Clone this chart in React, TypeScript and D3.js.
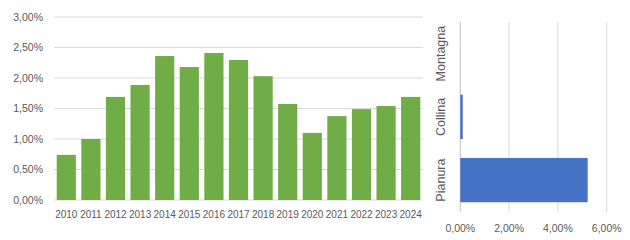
import React from "react";
import * as d3 from "d3";

const years = ["2010","2011","2012","2013","2014","2015","2016","2017","2018","2019","2020","2021","2022","2023","2024"];
const yearValues = [0.74, 1.0, 1.69, 1.885, 2.36, 2.18, 2.41, 2.295, 2.03, 1.575, 1.1, 1.375, 1.49, 1.54, 1.69];
const leftTicks = [0, 0.5, 1, 1.5, 2, 2.5, 3];

const zones = ["Montagna", "Collina", "Pianura"];
const zoneValues = [0, 0.1, 5.22];
const rightTicks = [0, 2, 4, 6];

const fmt = (v: number) => v.toFixed(2).replace(".", ",") + "%";

const FONT = "'Liberation Sans', Arial, sans-serif";
const TEXT = "#595959";
const GRID = "#d9d9d9";

export default function App() {
  const x = d3.scaleBand<string>().domain(years).range([54, 423]).paddingInner(0.22).paddingOuter(0.11);
  const y = d3.scaleLinear().domain([0, 3]).range([200, 17]);

  const rx = d3.scaleLinear().domain([0, 6]).range([460.3, 606.7]);
  const ry = d3.scaleBand<string>().domain(zones).range([22, 211.7]).paddingInner(0.3).paddingOuter(0.15);

  return (
    <svg width={630} height={240} style={{ position: "absolute", left: 0, top: 0, background: "#fff" }} fontFamily={FONT}>
      {/* left chart */}
      {leftTicks.map((t) => (
        <g key={"lt" + t}>
          <line x1={54} x2={423} y1={y(t)} y2={y(t)} stroke={GRID} strokeWidth={1} />
          <text x={43} y={y(t)} dy="0.35em" textAnchor="end" fontSize={10.5} fill={TEXT}>{fmt(t)}</text>
        </g>
      ))}
      {years.map((yr, i) => (
        <rect key={yr} x={x(yr)} y={y(yearValues[i])} width={x.bandwidth()} height={y(0) - y(yearValues[i])} fill="#70AD47" />
      ))}
      {years.map((yr) => (
        <text key={"yl" + yr} x={(x(yr) as number) + x.bandwidth() / 2} y={218} textAnchor="middle" fontSize={10} fill={TEXT}>{yr}</text>
      ))}

      {/* right chart */}
      {rightTicks.map((t) => (
        <g key={"rt" + t}>
          <line x1={rx(t)} x2={rx(t)} y1={22} y2={211.7} stroke={t === 0 ? "#bfbfbf" : GRID} strokeWidth={1} />
          <text x={rx(t)} y={232} textAnchor="middle" fontSize={10.5} fill={TEXT}>{fmt(t)}</text>
        </g>
      ))}
      {zones.map((z, i) => (
        <rect key={z} x={rx(0)} y={ry(z)} width={rx(zoneValues[i]) - rx(0)} height={ry.bandwidth()} fill="#4472C4" />
      ))}
      {zones.map((z) => {
        const cy = (ry(z) as number) + ry.bandwidth() / 2;
        return (
          <text key={"zl" + z} transform={`translate(441,${cy}) rotate(-90)`} dy="0.35em" textAnchor="middle" fontSize={12.5} fill={TEXT}>{z}</text>
        );
      })}
    </svg>
  );
}
